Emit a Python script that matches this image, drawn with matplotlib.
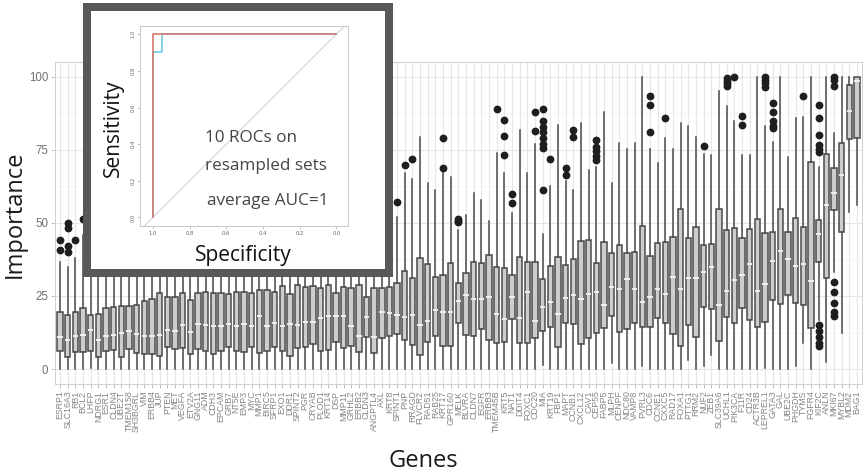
import matplotlib
matplotlib.use("Agg")
import matplotlib.pyplot as plt
from matplotlib.ticker import FixedLocator

W, H = 863, 476

genes = ["ESRP1", "SLC16A3", "RB1", "BCL2", "LHFP", "NDRG1", "ESR1", "CLDN4", "UBE2T", "TMEM158",
         "SH3BGRL", "VIM", "ERBB4", "JUP", "PTEN", "MET", "VEGFA", "ETV2A", "GNG11", "ADM",
         "CDH3", "EPCAM", "GRB7", "NT5E", "EMP3", "MYC", "MMP1", "BIRC5", "SFRP1", "EXO1",
         "DDR1", "SPINT2", "PGR", "CRYAB", "PLOD1", "KRT14", "DSP", "MMP11", "GRHL2", "ERBB2",
         "CLDN3", "ANGPTL4", "AXL", "KRT8", "SPINT1", "PNP", "RRAGD", "FLVCR2", "RAD51", "RAB25",
         "KRT17", "GPR160", "MELK", "BLVRA", "CLDN7", "EGFR", "ERBB3", "TMEM45B", "KRT5", "NAT1",
         "DDIT4", "FOXC1", "CDC20", "MIA", "KRT19", "FBP1", "MAPT", "CCNB1", "CXCL12", "CAV1",
         "CEP55", "FABP5", "MLPH", "CENPF", "NDC80", "VAMP8", "PVRL3", "CDC6", "CCNE1", "CXXC5",
         "RAD17", "FOXA1", "PTTG1", "RRM2", "NUF2", "ZEB1", "SLC39A6", "UCHL1", "PIK3CA", "F11R",
         "CD24", "ACTR3B", "LEPREL1", "GATA3", "GAL", "UBE2C", "PHGDH", "TYMS", "FGFR4", "KIF2C",
         "ANLN", "MKI67", "MYBL2", "MDM2", "BAG1"]

whisker_low = [0, 0, 0, 0, 0.5, 0, 0, 0, 0, 0,
               0, 0, 0, 0, 0, 0, 0, 0, 0, 0,
               0, 0, 0, 0, 0, 0, 0, 0, 0, 0,
               0, 0, 0, 0, 0, 0, 0, 0, 0, 0,
               0, 0, 0, 0, 0, 0, 0, 0, 0, 0,
               0, 0, 0, 0, 0, 0, 0, 0, 0, 0,
               0, 0, 0, 1.4, 0, 0, 0, 0, 0, 0,
               0, 0, 2, 0, 0, 0, 1, 0, 0, 0,
               0, 0, 3, 0, 1, 4.8, 0, 0, 0, 0,
               0, 0, 0.5, 0, 0, 0, 1, 8.8, 0, 16.8,
               2.5, 33.3, 12.2, 53.9, 56.2]

q1 = [6.1, 4.0, 5.7, 5.7, 6.3, 4.0, 6.3, 6.6, 4.0, 6.9,
      5.5, 5.2, 5.2, 4.3, 7.7, 6.9, 7.1, 5.2, 6.9, 6.3,
      5.2, 6.0, 7.5, 6.3, 5.7, 7.5, 5.5, 6.3, 7.5, 6.3,
      4.6, 7.2, 7.5, 8.4, 6.1, 6.6, 9.4, 7.1, 7.9, 5.9,
      11.1, 5.4, 10.5, 11.3, 11.9, 9.9, 8.2, 4.8, 9.4, 11.3,
      7.9, 7.9, 15.9, 11.6, 11.3, 13.6, 9.9, 9.0, 9.4, 17.0,
      8.8, 9.0, 10.7, 13.1, 14.5, 7.6, 15.9, 15.4, 8.4, 10.5,
      12.2, 13.9, 18.2, 12.8, 13.6, 15.6, 14.5, 14.5, 17.4, 15.6,
      12.0, 7.9, 15.1, 10.8, 21.1, 20.4, 9.7, 17.9, 15.9, 20.8,
      16.8, 14.3, 16.2, 23.6, 22.3, 25.3, 22.7, 21.9, 13.9, 36.8,
      31.0, 54.5, 47.0, 78.8, 79.0]

median = [10.9, 10.0, 11.3, 11.8, 13.2, 9.8, 11.3, 11.5, 12.3, 13.0,
          12.0, 11.3, 11.4, 11.8, 13.2, 13.0, 15.2, 12.6, 15.5, 15.2,
          14.7, 14.7, 15.3, 14.7, 15.5, 14.7, 18.0, 14.6, 15.9, 14.6,
          15.5, 15.2, 16.1, 16.1, 17.5, 18.0, 18.2, 18.2, 14.7, 11.3,
          17.9, 10.8, 19.4, 19.1, 18.5, 17.7, 18.5, 15.1, 16.6, 20.2,
          19.6, 19.6, 23.3, 25.3, 23.9, 23.9, 24.5, 18.8, 17.0, 24.5,
          17.4, 26.5, 16.6, 21.1, 22.8, 18.8, 24.2, 25.3, 24.0, 25.7,
          26.3, 21.9, 28.2, 27.3, 30.8, 27.3, 23.0, 24.5, 27.3, 25.7,
          31.4, 27.3, 31.0, 31.0, 33.3, 35.0, 21.9, 26.8, 30.5, 32.2,
          35.9, 26.8, 29.1, 37.0, 40.5, 37.6, 35.4, 35.8, 30.1, 46.2,
          56.2, 60.4, 66.4, 88.2, 98.7]

q3 = [19.5, 18.6, 19.5, 21.0, 18.4, 19.0, 21.0, 21.3, 21.5, 21.7,
      22.0, 23.3, 24.0, 26.0, 24.7, 24.5, 25.9, 23.8, 25.9, 26.4,
      25.9, 25.9, 25.6, 26.4, 26.4, 25.9, 27.2, 27.0, 26.4, 28.4,
      25.6, 28.7, 28.2, 28.4, 27.9, 28.7, 26.0, 28.2, 27.6, 28.8,
      24.8, 27.9, 27.6, 28.2, 29.6, 33.7, 31.0, 38.1, 35.8, 31.6,
      32.2, 36.2, 29.6, 33.0, 36.8, 36.4, 39.0, 35.0, 34.7, 32.2,
      38.5, 36.8, 36.8, 30.8, 35.3, 38.5, 35.6, 37.6, 43.8, 44.2,
      36.4, 43.6, 39.8, 42.5, 39.6, 40.2, 49.0, 38.7, 43.3, 43.6,
      45.3, 54.7, 44.7, 48.5, 42.5, 42.8, 54.7, 47.6, 48.2, 45.0,
      47.8, 51.5, 46.5, 46.9, 54.9, 47.0, 51.8, 48.5, 71.0, 51.0,
      73.7, 69.0, 77.3, 97.3, 99.9]

whisker_high = [36.8, 35.0, 37.9, 46, 48, 52, 50, 55, 53, 56,
                50, 58, 55, 60, 52, 57, 60, 54, 62, 58,
                60, 63, 55, 60, 65, 58, 62, 60, 57, 66,
                59, 63, 61, 64, 60, 66, 58, 62, 60, 65,
                55, 63, 58, 60, 52, 67, 65, 79.6, 63.8, 61.3,
                67.6, 65.9, 47.6, 52.7, 60.2, 57.9, 50.7, 74, 67, 53.5,
                81.8, 67, 77, 46.2, 62.7, 83.6, 64.5, 61.3, 84.4, 68.2,
                69.3, 88.1, 63.8, 77.5, 75.2, 77.5, 99.9, 75.2, 70.7, 79.2,
                75.2, 84.1, 83.3, 79.3, 73.6, 73.3, 95.3, 90.2, 85, 73.3,
                73.3, 99.9, 83.2, 77.9, 99.9, 72.7, 85.8, 86.4, 99.9, 69.3,
                99.9, 80.7, 100, 100, 100]

outliers = {
    "ESRP1": [40.8, 44.2],
    "SLC16A3": [40.2, 42.0, 48.3, 50.0],
    "RB1": [44.2],
    "BCL2": [51.3],
    "SPINT1": [57.3],
    "PNP": [70.0],
    "RRAGD": [71.8],
    "KRT17": [69.0, 79.2],
    "MELK": [50.2, 50.6, 51.2],
    "TMEM45B": [88.9],
    "KRT5": [73.3, 79.8, 85.3],
    "NAT1": [56.7, 59.8],
    "CDC20": [81.5, 88.0],
    "MIA": [61.3, 75.6, 77.0, 79.0, 81.0, 83.0, 85.0, 88.9],
    "KRT19": [71.9],
    "MAPT": [66.4, 68.7],
    "CCNB1": [79.6, 82.0],
    "CEP55": [71.6, 73.0, 74.5, 76.0, 78.4],
    "CDC6": [81.3, 90.4, 93.5],
    "CXXC5": [86.0],
    "NUF2": [76.4],
    "UCHL1": [97.0, 97.8, 98.7, 99.5],
    "PIK3CA": [100.0],
    "F11R": [83.6, 86.8],
    "LEPREL1": [96.5, 98.0, 99.0, 100.0],
    "GATA3": [82.4, 83.2, 84.9, 88.1, 91.2],
    "TYMS": [93.5],
    "KIF2C": [8.0, 9.0, 11.0, 13.0, 15.0, 74.4, 75.5, 76.7, 80.1, 85.8, 90.4],
    "MKI67": [18.0, 19.6, 22.5, 26.5, 29.9, 97.0, 99.0, 100.0],
}

y_ticks = [0, 25, 50, 75, 100]

# ROC inset data
roc_red_spec = [1.0, 1.0, 0.0]
roc_red_sens = [0.0, 1.0, 1.0]
roc_cyan_spec = [1.0, 1.0, 0.95, 0.95, 0.0]
roc_cyan_sens = [0.0, 0.905, 0.905, 1.0, 1.0]
roc_ticks = [0.0, 0.2, 0.4, 0.6, 0.8, 1.0]


def rect(x0, y0, x1, y1):
    return [x0 / W, 1 - y1 / H, (x1 - x0) / W, (y1 - y0) / H]


def fx(x):
    return x / W


def fy(y):
    return 1 - y / H


fig = plt.figure(figsize=(W / 100, H / 100), dpi=100)
fig.patch.set_facecolor("white")

ax = fig.add_axes(rect(55.4, 62.4, 861.5, 383.6))
n = len(genes)
positions = list(range(1, n + 1))
stats = []
for i, g in enumerate(genes):
    stats.append(dict(med=median[i], q1=q1[i], q3=q3[i],
                      whislo=whisker_low[i], whishi=whisker_high[i],
                      fliers=outliers.get(g, [])))

ax.set_axisbelow(True)
ax.bxp(stats, positions=positions, widths=0.7, patch_artist=True, showcaps=False,
       boxprops=dict(facecolor="#cdcdcd", edgecolor="#4a4a4a", linewidth=1.1),
       whiskerprops=dict(color="#4a4a4a", linewidth=1.1),
       medianprops=dict(color="#f4f4f4", linewidth=1.3),
       flierprops=dict(marker="o", markerfacecolor="#1e1e1e", markeredgecolor="#1e1e1e",
                       markersize=4.6, linestyle="none"))

ax.set_xlim(0.4, n + 0.6)
ax.set_ylim(-5, 105)
ax.set_xticks(positions)
ax.set_xticklabels(genes, rotation=90, fontsize=6.3, color="#858585",
                   family=["Liberation Sans", "DejaVu Sans"])
ax.set_yticks(y_ticks)
ax.set_yticklabels([str(t) for t in y_ticks], fontsize=8.3, color="#707070",
                   family=["Liberation Sans", "DejaVu Sans"])
ax.yaxis.set_minor_locator(FixedLocator([12.5, 37.5, 62.5, 87.5]))
ax.grid(True, which="major", color="#e6e6e6", linewidth=0.8)
ax.grid(True, which="minor", axis="y", color="#f0f0f0", linewidth=0.5)
ax.tick_params(axis="both", which="major", length=3, width=0.6, color="#b3b3b3", pad=2)
ax.tick_params(axis="y", which="minor", length=0)
for s in ax.spines.values():
    s.set_color("#cfcfcf")
    s.set_linewidth(0.7)

fig.text(fx(15), fy(214), "Importance", rotation=90, ha="center", va="center",
         fontsize=17, color="#1a1a1a", family=["Open Sans", "DejaVu Sans"])
fig.text(fx(423), fy(461), "Genes", ha="center", va="center",
         fontsize=17, color="#1a1a1a", family=["Open Sans", "DejaVu Sans"])

# Inset frame
frame = fig.add_axes(rect(83, 3, 393, 277))
frame.set_facecolor("#58585a")
frame.set_xticks([]); frame.set_yticks([])
for s in frame.spines.values():
    s.set_visible(False)
inner = fig.add_axes(rect(91, 11, 385, 269))
inner.set_facecolor("white")
inner.set_xticks([]); inner.set_yticks([])
for s in inner.spines.values():
    s.set_visible(False)

roc = fig.add_axes(rect(140, 26, 348, 226))
roc.set_facecolor("white")
roc.set_xlim(1.07, -0.063)
roc.set_ylim(-0.047, 1.045)
roc.plot([1.2, -0.2], [-0.2, 1.2], color="#cfcfcf", linewidth=0.7)
roc.plot(roc_cyan_spec, roc_cyan_sens, color="#62c6e6", linewidth=1.1)
roc.plot(roc_red_spec, roc_red_sens, color="#d77a6e", linewidth=1.2)
roc.set_xticks(roc_ticks)
roc.set_yticks(roc_ticks)
roc.set_xticklabels([f"{t:.1f}" for t in roc_ticks], fontsize=3.8, color="#666666")
roc.set_yticklabels([f"{t:.1f}" for t in roc_ticks], fontsize=3.8, color="#666666",
                    rotation=90, va="center")
roc.tick_params(length=2, width=0.4, color="#999999", pad=1.5)
for s in roc.spines.values():
    s.set_color("#c8c8c8")
    s.set_linewidth(0.7)

fig.text(fx(113), fy(128), "Sensitivity", rotation=90, ha="center", va="center",
         fontsize=15, color="#111111", family=["Open Sans", "DejaVu Sans"])
fig.text(fx(243), fy(256), "Specificity", ha="center", va="center",
         fontsize=15, color="#111111", family=["Open Sans", "DejaVu Sans"])
fig.text(fx(205), fy(138), "10 ROCs on", ha="left", va="center",
         fontsize=12.3, color="#454545", family=["Open Sans", "DejaVu Sans"])
fig.text(fx(205), fy(166), "resampled sets", ha="left", va="center",
         fontsize=12.3, color="#454545", family=["Open Sans", "DejaVu Sans"])
fig.text(fx(207), fy(201), "average AUC=1", ha="left", va="center",
         fontsize=12.3, color="#454545", family=["Open Sans", "DejaVu Sans"])

fig.savefig("out.png", dpi=100, facecolor="white")
